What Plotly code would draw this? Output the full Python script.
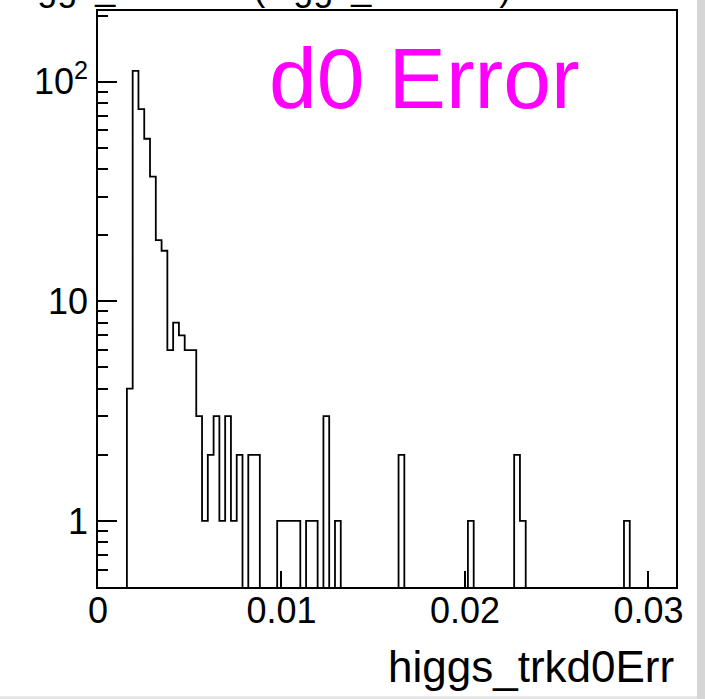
import numpy as np
import plotly.graph_objects as go

# Binning of the higgs_trkd0Err histogram
x_min, x_max, n_bins = 0.0, 0.0315, 100

# Entries per bin
counts = [
    0, 0, 0, 0, 0, 4, 112, 75, 55, 37,
    19, 17, 6, 8, 7, 6, 6, 3, 1, 2,
    3, 1, 3, 1, 2, 0, 2, 2, 0, 0,
    0, 1, 1, 1, 1, 0, 1, 1, 0, 3,
    0, 1, 0, 0, 0, 0, 0, 0, 0, 0,
    0, 0, 2, 0, 0, 0, 0, 0, 0, 0,
    0, 0, 0, 0, 1, 0, 0, 0, 0, 0,
    0, 0, 2, 1, 0, 0, 0, 0, 0, 0,
    0, 0, 0, 0, 0, 0, 0, 0, 0, 0,
    0, 1, 0, 0, 0, 0, 0, 0, 0, 0,
]

x_tick_vals = [0, 0.01, 0.02, 0.03]
x_tick_text = ["0", "0.01", "0.02", "0.03"]
y_tick_vals = [1, 10, 100]
y_tick_text = ["1", "10", "10<sup>2</sup>"]
y_minor_vals = [0.6, 0.7, 0.8, 0.9] + [m * d for d in (1, 10) for m in range(2, 10)] + [200]

y_low, y_high = 0.5, 210.0

edges = np.linspace(x_min, x_max, n_bins + 1)
# empty bins sit below the visible log range so the outline drops onto the axis
floor = y_low / 5
step_y = [c if c > 0 else floor for c in counts] + [counts[-1] if counts[-1] > 0 else floor]

FONT = "Liberation Sans, Arial, Helvetica, sans-serif"

fig = go.Figure()
fig.add_trace(go.Scatter(
    x=edges, y=step_y, mode="lines", line_shape="hv",
    line=dict(color="black", width=1.8), hoverinfo="skip", showlegend=False,
))

fig.update_layout(
    width=705, height=699,
    margin=dict(l=98, r=29, t=9, b=112),
    paper_bgcolor="white", plot_bgcolor="white",
    font=dict(family=FONT, color="black"),
    title=dict(
        text="higgs_trkd0Err (higgs_trkd0Err)",
        font=dict(size=36, family=FONT, color="black"),
        xref="container", yref="container", x=0.013, xanchor="left",
        y=1.0, yanchor="bottom",
    ),
    xaxis=dict(
        range=[x_min, x_max], showgrid=False, zeroline=False,
        showline=True, linecolor="black", linewidth=1.5, mirror=True,
        ticks="inside", ticklen=16, tickcolor="black", tickwidth=1.5,
        tickvals=x_tick_vals, ticktext=x_tick_text,
        tickfont=dict(size=36, family=FONT, color="black"),
        ticklabelstandoff=-9,
    ),
    yaxis=dict(
        type="log", range=[np.log10(y_low), np.log10(y_high)],
        showgrid=False, zeroline=False,
        showline=True, linecolor="black", linewidth=1.5, mirror=True,
        ticks="inside", ticklen=19, tickcolor="black", tickwidth=1.5,
        tickvals=y_tick_vals, ticktext=y_tick_text,
        tickfont=dict(size=36, family=FONT, color="black"),
        ticklabelstandoff=1,
        minor=dict(ticks="inside", ticklen=10, tickcolor="black", tickwidth=1.5,
                   tickvals=y_minor_vals, showgrid=False),
    ),
    annotations=[
        dict(text="d0 Error", xref="paper", yref="paper", x=0.2924, y=0.8837,
             xanchor="left", yanchor="middle", showarrow=False,
             font=dict(size=86, family=FONT, color="#ff00ff")),
        dict(text="higgs_trkd0Err", xref="paper", yref="paper", x=1.0, y=-0.1378,
             xanchor="right", yanchor="middle", showarrow=False,
             font=dict(size=44, family=FONT, color="black")),
    ],
    shapes=[
        dict(type="rect", xref="paper", yref="paper", x0=1.0363, x1=1.06,
             y0=-0.25, y1=1.05, fillcolor="#d6d6d6", line=dict(width=0), layer="above"),
        dict(type="rect", xref="paper", yref="paper", x0=-0.2, x1=1.0363,
             y0=-0.196, y1=-0.1895, fillcolor="#e4e4e4", line=dict(width=0), layer="above"),
    ],
)

fig.write_html("out.html")
